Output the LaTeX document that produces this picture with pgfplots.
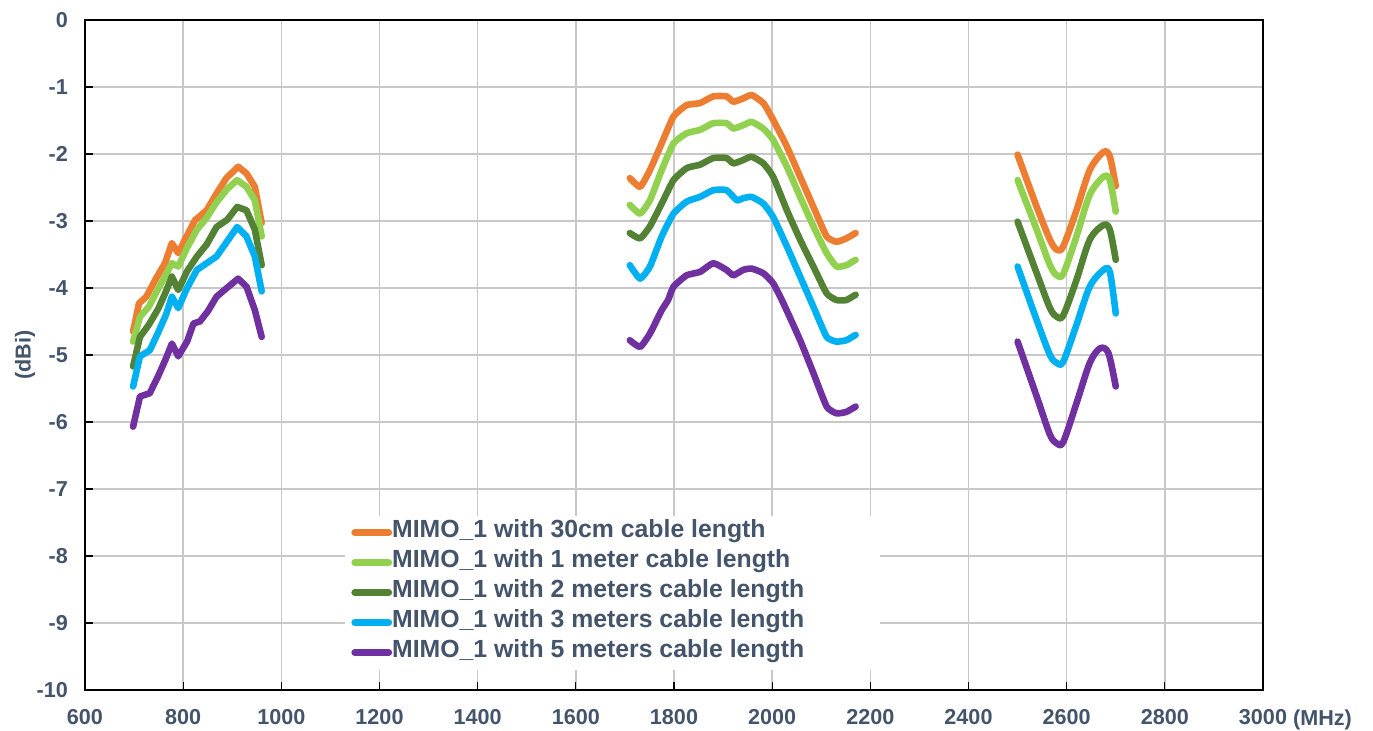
\documentclass[border=0pt]{standalone}
\usepackage{fontspec}
\setmainfont{Liberation Sans}
\usepackage{pgfplots}
\pgfplotsset{compat=1.18}
\definecolor{cOr}{RGB}{237,125,49}
\definecolor{cLg}{RGB}{146,208,80}
\definecolor{cDg}{RGB}{84,130,53}
\definecolor{cCy}{RGB}{0,176,240}
\definecolor{cPu}{RGB}{112,48,160}
\definecolor{txt}{RGB}{68,84,106}
\definecolor{grd}{RGB}{200,200,200}
\newcommand\lent[1]{\makebox[241pt][l]{#1}}
\begin{document}
\begin{tikzpicture}
\path[use as bounding box] (-42.5pt,-20.5pt) rectangle (644pt,345pt);
\begin{axis}[
  scale only axis, width=589pt, height=335pt,
  xmin=600, xmax=3000, ymin=-10, ymax=0,
  xtick={600,800,...,3000}, ytick={-10,-9,...,0},
  grid=major, major grid style={grd, line width=0.8pt},
  axis line style={black, line width=0.8pt},
  tick style={black, line width=0.6pt}, tick align=inside, major tick length=4pt,
  tick pos=left,
  /pgf/number format/assume math mode=true,
  /pgf/number format/1000 sep={},
  ticklabel style={font=\bfseries\fontsize{10.8}{10.8}\selectfont, text=txt},
  xticklabel style={yshift=-6pt},
  yticklabel style={xshift=-5pt},
  xlabel={(MHz)},
  x label style={at={(axis description cs:1,0)}, anchor=north west, xshift=11.5pt, yshift=-6.5pt,
     font=\bfseries\fontsize{10.8}{10.8}\selectfont, text=txt},
  ylabel={(dBi)},
  y label style={at={(axis description cs:-0.051,0.5)}, anchor=center,
     font=\bfseries\fontsize{10.8}{10.8}\selectfont, text=txt},
  every axis plot/.append style={line width=3.3pt, line join=round, line cap=round, no markers},
  legend cell align=left,
  legend style={at={(0.2207,0.261)}, anchor=north west, draw=none, fill=white,
     inner xsep=3pt, inner ysep=1pt, row sep=0pt,
     font=\bfseries\fontsize{12.4}{12.4}\selectfont, text=txt,
     nodes={inner xsep=0pt, inner ysep=0pt, text height=10pt, text depth=5pt}},
]
% ---- orange 30cm
\addplot[cOr] coordinates {(698,-4.65)(710,-4.23)(725,-4.13)(743,-3.88)(763,-3.63)(777,-3.33)(790,-3.48)(807,-3.23)(824,-2.99)(848,-2.84)(868,-2.59)(888,-2.36)(912,-2.19)(929,-2.29)(946,-2.49)(960,-3.03)};
\addlegendentry{\lent{MIMO\_1 with 30cm cable length}}
% ---- light green 1 m
\addplot[cLg] coordinates {(698,-4.80)(712,-4.43)(730,-4.28)(750,-4.00)(765,-3.80)(777,-3.63)(790,-3.68)(808,-3.40)(828,-3.13)(848,-2.95)(868,-2.72)(890,-2.52)(910,-2.39)(929,-2.49)(946,-2.69)(960,-3.23)};
\addlegendentry{\lent{MIMO\_1 with 1 meter cable length}}
% ---- dark green 2 m
\addplot[cDg] coordinates {(698,-5.17)(712,-4.73)(730,-4.55)(750,-4.30)(765,-4.05)(777,-3.83)(790,-4.03)(808,-3.75)(828,-3.53)(848,-3.35)(868,-3.09)(890,-2.98)(910,-2.79)(929,-2.84)(946,-3.13)(960,-3.66)};
\addlegendentry{\lent{MIMO\_1 with 2 meters cable length}}
% ---- cyan 3 m
\addplot[cCy] coordinates {(698,-5.47)(712,-5.02)(732,-4.93)(750,-4.65)(765,-4.40)(777,-4.13)(790,-4.30)(808,-4.00)(828,-3.73)(848,-3.63)(868,-3.53)(890,-3.30)(910,-3.09)(929,-3.23)(946,-3.53)(960,-4.05)};
\addlegendentry{\lent{MIMO\_1 with 3 meters cable length}}
% ---- purple 5 m
\addplot[cPu] coordinates {(698,-6.07)(712,-5.62)(732,-5.57)(750,-5.30)(765,-5.05)(777,-4.83)(790,-5.02)(808,-4.80)(821,-4.53)(834,-4.50)(850,-4.35)(868,-4.13)(889,-4.00)(912,-3.86)(929,-3.98)(946,-4.33)(960,-4.73)};
\addlegendentry{\lent{MIMO\_1 with 5 meters cable length}}
% ===== mid band
\addplot[cOr, smooth, tension=0.3, forget plot] coordinates {(1710,-2.36)(1731,-2.49)(1751,-2.24)(1775,-1.84)(1799,-1.44)(1826,-1.27)(1853,-1.24)(1880,-1.14)(1907,-1.14)(1921,-1.22)(1941,-1.17)(1958,-1.12)(1982,-1.24)(2002,-1.49)(2030,-1.89)(2057,-2.34)(2084,-2.79)(2111,-3.23)(2131,-3.31)(2151,-3.26)(2170,-3.18)};
\addplot[cLg, smooth, tension=0.3, forget plot] coordinates {(1710,-2.76)(1731,-2.89)(1751,-2.69)(1775,-2.24)(1799,-1.84)(1826,-1.69)(1853,-1.64)(1880,-1.54)(1907,-1.54)(1921,-1.62)(1941,-1.57)(1958,-1.52)(1982,-1.62)(2002,-1.79)(2030,-2.19)(2057,-2.64)(2084,-3.08)(2111,-3.48)(2131,-3.68)(2151,-3.66)(2170,-3.58)};
\addplot[cDg, smooth, tension=0.3, forget plot] coordinates {(1710,-3.18)(1731,-3.26)(1751,-3.08)(1775,-2.74)(1799,-2.39)(1826,-2.21)(1853,-2.16)(1880,-2.06)(1907,-2.06)(1921,-2.14)(1941,-2.09)(1958,-2.04)(1982,-2.14)(2002,-2.34)(2030,-2.84)(2057,-3.28)(2084,-3.68)(2111,-4.08)(2131,-4.18)(2151,-4.18)(2170,-4.10)};
\addplot[cCy, smooth, tension=0.3, forget plot] coordinates {(1710,-3.66)(1731,-3.86)(1751,-3.68)(1775,-3.23)(1799,-2.89)(1826,-2.71)(1853,-2.64)(1880,-2.54)(1907,-2.54)(1928,-2.69)(1941,-2.66)(1958,-2.64)(1982,-2.74)(2002,-2.94)(2030,-3.38)(2057,-3.83)(2084,-4.28)(2111,-4.73)(2131,-4.80)(2151,-4.78)(2170,-4.70)};
\addplot[cPu, smooth, tension=0.3, forget plot] coordinates {(1710,-4.78)(1731,-4.88)(1751,-4.68)(1775,-4.33)(1788,-4.18)(1799,-3.98)(1826,-3.81)(1853,-3.76)(1880,-3.63)(1907,-3.73)(1921,-3.81)(1941,-3.73)(1958,-3.71)(1982,-3.78)(2002,-3.93)(2023,-4.23)(2057,-4.78)(2084,-5.27)(2111,-5.77)(2131,-5.87)(2151,-5.85)(2170,-5.77)};
% ===== high band
\addplot[cOr, smooth, tension=0.5, forget plot] coordinates {(2500,-2.01)(2539,-2.79)(2566,-3.28)(2580,-3.43)(2593,-3.38)(2620,-2.84)(2647,-2.24)(2675,-1.97)(2688,-2.04)(2700,-2.48)};
\addplot[cLg, smooth, tension=0.5, forget plot] coordinates {(2500,-2.39)(2539,-3.13)(2566,-3.66)(2580,-3.81)(2593,-3.79)(2620,-3.23)(2647,-2.61)(2675,-2.34)(2688,-2.39)(2700,-2.86)};
\addplot[cDg, smooth, tension=0.5, forget plot] coordinates {(2500,-3.01)(2539,-3.78)(2566,-4.30)(2580,-4.43)(2593,-4.41)(2620,-3.88)(2647,-3.28)(2675,-3.06)(2688,-3.13)(2700,-3.58)};
\addplot[cCy, smooth, tension=0.5, forget plot] coordinates {(2500,-3.68)(2539,-4.48)(2566,-5.00)(2580,-5.12)(2593,-5.10)(2620,-4.55)(2647,-3.98)(2675,-3.73)(2688,-3.76)(2700,-4.38)};
\addplot[cPu, smooth, tension=0.5, forget plot] coordinates {(2500,-4.80)(2539,-5.62)(2566,-6.19)(2580,-6.32)(2593,-6.30)(2620,-5.72)(2647,-5.12)(2668,-4.90)(2685,-4.97)(2700,-5.47)};
\end{axis}
\end{tikzpicture}
\end{document}
